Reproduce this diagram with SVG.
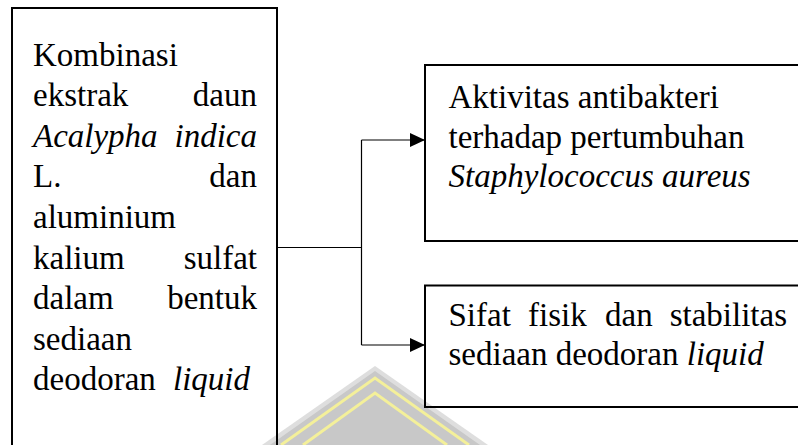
<svg xmlns="http://www.w3.org/2000/svg" width="798" height="445" viewBox="0 0 798 445">
<style>
.box{fill:none;stroke:#000;stroke-width:2}
.c{fill:none;stroke:#000;stroke-width:1.2}
.t{font-family:"Liberation Serif","Times New Roman",serif;font-size:33px;fill:#000}
.i{font-style:italic}
.e{text-anchor:end}
</style>
<defs>
<marker id="ah" markerWidth="15" markerHeight="14" refX="15" refY="7" orient="auto" markerUnits="userSpaceOnUse">
<path d="M0,0 L15,7 L0,14 Z" fill="#000"/>
</marker>
</defs>
<rect width="798" height="445" fill="#fff"/>
<g id="watermark">
<polygon points="375,366 262,445 488,445" fill="#dedede"/>
<polygon points="375,371 270,445 480,445" fill="#c8c8c8"/>
<polyline points="281,445 375,378 469,445" fill="none" stroke="#f4f09a" stroke-width="3"/>
<polyline points="303,445 375,393 447,445" fill="none" stroke="#f4f09a" stroke-width="3"/>
</g>
<g id="connectors">
<path class="c" d="M277,247.5 H361.5 M361.5,140 V345"/>
<path class="c" d="M361.5,140 H425" marker-end="url(#ah)"/>
<path class="c" d="M361.5,345 H425" marker-end="url(#ah)"/>
</g>
<g id="node-kombinasi">
<rect class="box" x="12" y="8" width="265" height="460"/>
<text class="t" x="33" y="65.5">Kombinasi</text>
<text class="t" x="33" y="106">ekstrak</text><text class="t e" x="257" y="106">daun</text>
<text class="t i" x="33" y="146.7">Acalypha</text><text class="t i e" x="257" y="146.7">indica</text>
<text class="t" x="33" y="187.3">L.</text><text class="t e" x="257" y="187.3">dan</text>
<text class="t" x="33" y="227.9">aluminium</text>
<text class="t" x="33" y="268.5">kalium</text><text class="t e" x="257" y="268.5">sulfat</text>
<text class="t" x="33" y="309.1">dalam</text><text class="t e" x="257" y="309.1">bentuk</text>
<text class="t" x="33" y="349.7">sediaan</text>
<text class="t" x="33" y="390.3">deodoran</text><text class="t i" x="173" y="390.3">liquid</text>
</g>
<g id="node-aktivitas">
<rect class="box" x="425" y="65" width="380" height="176"/>
<text class="t" x="448.5" y="108">Aktivitas antibakteri</text>
<text class="t" x="448.5" y="147.5">terhadap pertumbuhan</text>
<text class="t i" x="448.5" y="187">Staphylococcus aureus</text>
</g>
<g id="node-sifat">
<rect class="box" x="425" y="285.5" width="380" height="121.5"/>
<text class="t" x="448.5" y="326">Sifat</text>
<text class="t" x="528" y="326">fisik</text>
<text class="t" x="605" y="326">dan</text>
<text class="t e" x="787" y="326">stabilitas</text>
<text class="t" x="448.5" y="365">sediaan deodoran <tspan class="i">liquid</tspan></text>
</g>
</svg>
